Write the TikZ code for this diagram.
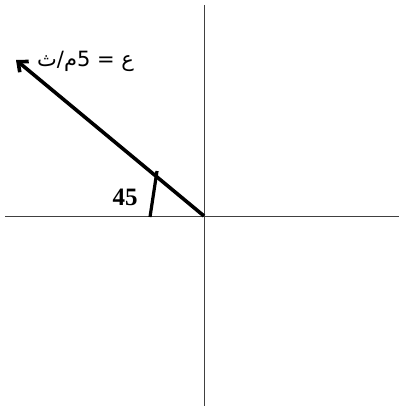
\documentclass[tikz,border=0pt]{standalone}
\usepackage{fontspec}
\setmainfont{Liberation Serif}
\newfontfamily\arabicfont[Script=Arabic]{DejaVu Sans}
\TeXXeTstate=1
\usetikzlibrary{arrows.meta}

\begin{document}
\begin{tikzpicture}[x=1pt,y=-1pt, axis/.style={draw=black!75,line width=0.9pt},
  vec/.style={line width=3.6pt,-{Straight Barb[length=8pt,width=14pt]}}]
  \useasboundingbox (0,0) rectangle (399,406);
  % axes
  \coordinate (O) at (204,216);
  \draw[axis] (5,216) -- (399,216);
  \draw[axis] (204,5) -- (204,406);
  % velocity vector
  \coordinate (tip) at (16,60);
  \draw[vec] (O) -- (tip);
  \node[font=\arabicfont\fontsize{21}{24}\selectfont, anchor=west, inner sep=0pt] (v) at (37,61) {\beginR ع = 5م/ث\endR};
  % angle
  \coordinate (a1) at (150,217);
  \coordinate (a2) at (157,171);
  \draw[line width=3.2pt] (a1) -- (a2);
  \node[font=\fontsize{25}{28}\selectfont\bfseries] (ang) at (125,197) {45};
\end{tikzpicture}
\end{document}
